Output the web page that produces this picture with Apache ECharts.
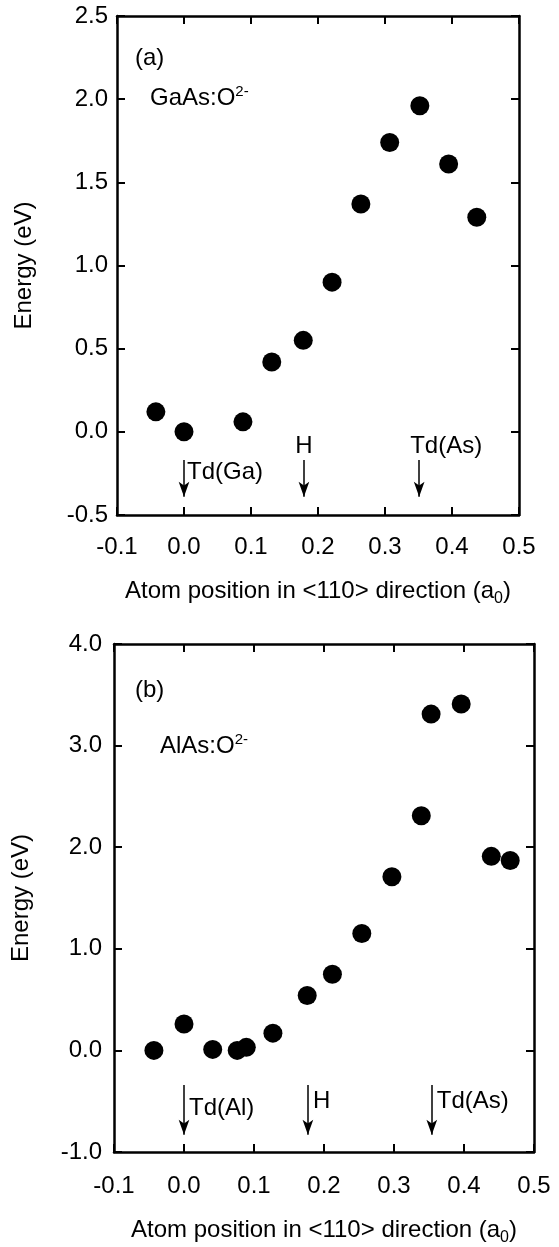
<!DOCTYPE html>
<html lang="en">
<head>
    <meta charset="UTF-8">
    <title>O2- energy vs atom position</title>
    <script src="https://cdn.jsdelivr.net/npm/echarts@6/dist/echarts.min.js"></script>
    <style>
        body, html {
            margin: 0;
            padding: 0;
            background: #ffffff;
        }
        #main {
            width: 559px;
            height: 1247px;
        }
    </style>
</head>
<body>
    <div id="main"></div>

    <script>
        // panel (a) GaAs:O2-
        var gaasX = [-0.042, 0.0, 0.088, 0.131, 0.178, 0.221, 0.264, 0.307, 0.352, 0.395, 0.437];
        var gaasE = [0.12, 0.0, 0.06, 0.42, 0.55, 0.90, 1.37, 1.74, 1.96, 1.61, 1.29];
        var gaasSites = ["Td(Ga)", "H", "Td(As)"];
        var gaasSiteX = [0.0, 0.179, 0.351];

        // panel (b) AlAs:O2-
        var alasX = [-0.043, 0.0, 0.041, 0.076, 0.089, 0.127, 0.176, 0.212, 0.254, 0.297, 0.339, 0.353, 0.396, 0.439, 0.466];
        var alasE = [0.0, 0.26, 0.01, 0.0, 0.03, 0.17, 0.54, 0.75, 1.15, 1.71, 2.31, 3.31, 3.41, 1.91, 1.87];
        var alasSites = ["Td(Al)", "H", "Td(As)"];
        var alasSiteX = [0.0, 0.177, 0.354];

        var xTickMin = -0.1, xTickMax = 0.5, xTickStep = 0.1;
        var aMin = -0.5, aMax = 2.5, aStep = 0.5;
        var bMin = -1.0, bMax = 4.0, bStep = 1.0;

        var FONT = "Liberation Sans";
        var BLACK = "#000000";

        function fmt(v) {
            if (Math.abs(v) < 1e-9) v = 0;
            return v.toFixed(1);
        }

        var xName = "{n|Atom position in <110> direction (a}{s|0}{n|)}";
        var nameRich = {
            n: { fontFamily: FONT, fontSize: 24, color: BLACK },
            s: { fontFamily: FONT, fontSize: 16, color: BLACK, padding: [16, 0, 0, 0] }
        };

        function xAxisPair(grid, gap) {
            var base = {
                gridIndex: grid,
                type: "value",
                min: xTickMin,
                max: xTickMax,
                interval: xTickStep,
                splitLine: { show: false },
                axisLine: { onZero: false, lineStyle: { color: BLACK, width: 2.5 } },
                axisTick: { inside: true, length: 8, lineStyle: { color: BLACK, width: 2 } }
            };
            var bottom = Object.assign({}, base, {
                position: "bottom",
                name: xName,
                nameLocation: "middle",
                nameGap: gap.name,
                nameTextStyle: { rich: nameRich },
                axisLabel: { formatter: fmt, fontFamily: FONT, fontSize: 24, color: BLACK, margin: gap.label }
            });
            var top = Object.assign({}, base, {
                position: "top",
                axisLabel: { show: false }
            });
            return [bottom, top];
        }

        function yAxisPair(grid, min, max, step, labelMargin) {
            var base = {
                gridIndex: grid,
                type: "value",
                min: min,
                max: max,
                interval: step,
                splitLine: { show: false },
                axisLine: { onZero: false, lineStyle: { color: BLACK, width: 2.5 } },
                axisTick: { inside: true, length: 8, lineStyle: { color: BLACK, width: 2 } }
            };
            var left = Object.assign({}, base, {
                position: "left",
                name: "Energy (eV)",
                nameLocation: "middle",
                nameGap: 81,
                nameTextStyle: { fontFamily: FONT, fontSize: 24, color: BLACK },
                axisLabel: { formatter: fmt, fontFamily: FONT, fontSize: 24, color: BLACK, margin: labelMargin }
            });
            var right = Object.assign({}, base, {
                position: "right",
                axisLabel: { show: false }
            });
            return [left, right];
        }

        function arrowLines(siteX, yTop, yBot) {
            return siteX.map(function (x) {
                return [
                    { coord: [x, yTop], symbol: "none" },
                    { coord: [x, yBot], symbol: "arrow", symbolSize: [8, 15] }
                ];
            });
        }

        function siteLabels(names, xs, ys, positions, offsets) {
            return names.map(function (n, i) {
                return {
                    value: [xs[i], ys[i]],
                    name: n,
                    label: { position: positions[i], offset: offsets[i] }
                };
            });
        }

        var xa = xAxisPair(0, { name: 60, label: 20 });
        var xb = xAxisPair(1, { name: 62, label: 22 });
        var ya = yAxisPair(0, aMin, aMax, aStep, 9);
        var yb = yAxisPair(1, bMin, bMax, bStep, 12);

        var dotStyle = { color: BLACK, opacity: 1 };
        var siteLabelStyle = {
            show: true,
            formatter: "{b}",
            fontFamily: FONT,
            fontSize: 24,
            color: BLACK,
            opacity: 1
        };
        var arrowStyle = {
            silent: true,
            label: { show: false },
            lineStyle: { color: BLACK, width: 1.5, type: "solid", opacity: 1 },
            itemStyle: { color: BLACK }
        };

        var option = {
            animation: false,
            backgroundColor: "#ffffff",
            grid: [
                { left: 117, top: 16, width: 402, height: 499 },
                { left: 114, top: 644, width: 420, height: 509 }
            ],
            xAxis: [xa[0], xa[1], xb[0], xb[1]],
            yAxis: [ya[0], ya[1], yb[0], yb[1]],
            graphic: [
                { type: "text", left: 135, top: 46, style: { text: "(a)", font: "24px " + FONT, fill: BLACK } },
                {
                    type: "text", left: 150, top: 84,
                    style: {
                        text: "{n|GaAs:O}{s|2-}",
                        rich: {
                            n: { fontFamily: FONT, fontSize: 24, fill: BLACK },
                            s: { fontFamily: FONT, fontSize: 15, fill: BLACK, padding: [0, 0, 14, 0] }
                        }
                    }
                },
                { type: "text", left: 135, top: 678, style: { text: "(b)", font: "24px " + FONT, fill: BLACK } },
                {
                    type: "text", left: 160, top: 732,
                    style: {
                        text: "{n|AlAs:O}{s|2-}",
                        rich: {
                            n: { fontFamily: FONT, fontSize: 24, fill: BLACK },
                            s: { fontFamily: FONT, fontSize: 15, fill: BLACK, padding: [0, 0, 14, 0] }
                        }
                    }
                }
            ],
            series: [
                {
                    type: "scatter",
                    xAxisIndex: 0,
                    yAxisIndex: 0,
                    symbolSize: 19,
                    itemStyle: dotStyle,
                    data: gaasX.map(function (x, i) { return [x, gaasE[i]]; }),
                    markLine: Object.assign({ data: arrowLines(gaasSiteX, -0.17, -0.39) }, arrowStyle)
                },
                {
                    type: "scatter",
                    xAxisIndex: 0,
                    yAxisIndex: 0,
                    symbolSize: 0,
                    silent: true,
                    itemStyle: { opacity: 1 },
                    label: siteLabelStyle,
                    data: siteLabels(gaasSites, gaasSiteX, [-0.245, -0.09, -0.09],
                        ["right", "inside", "inside"], [[-2, 0], [0, 0], [27, 0]])
                },
                {
                    type: "scatter",
                    xAxisIndex: 2,
                    yAxisIndex: 2,
                    symbolSize: 19,
                    itemStyle: dotStyle,
                    data: alasX.map(function (x, i) { return [x, alasE[i]]; }),
                    markLine: Object.assign({ data: arrowLines(alasSiteX, -0.34, -0.83) }, arrowStyle)
                },
                {
                    type: "scatter",
                    xAxisIndex: 2,
                    yAxisIndex: 2,
                    symbolSize: 0,
                    silent: true,
                    itemStyle: { opacity: 1 },
                    label: siteLabelStyle,
                    data: siteLabels(alasSites, alasSiteX, [-0.57, -0.50, -0.50],
                        ["right", "right", "right"], [[0, 0], [0, 0], [0, 0]])
                }
            ]
        };

        var chart = echarts.init(document.getElementById("main"));
        chart.setOption(option);
    </script>
</body>
</html>
